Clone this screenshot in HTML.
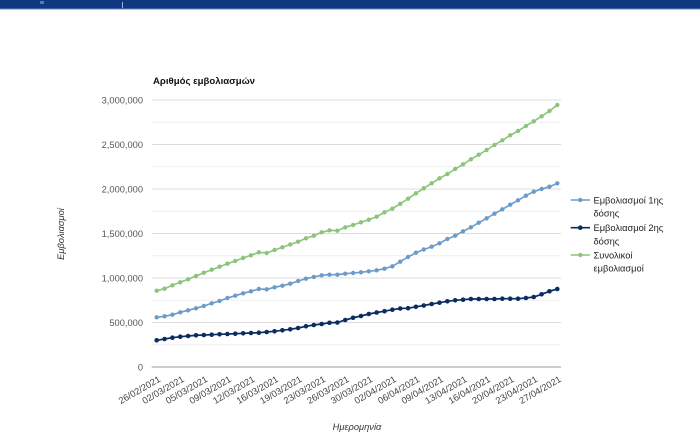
<!DOCTYPE html>
<html><head><meta charset="utf-8"><style>
html,body{margin:0;padding:0;background:#fff;}
body{width:700px;height:432px;overflow:hidden;}
svg{display:block;font-family:"Liberation Sans",Arial,sans-serif;}
</style></head><body>
<svg width="700" height="432" viewBox="0 0 700 432" xmlns="http://www.w3.org/2000/svg">
<defs>
<marker id="mg" markerUnits="userSpaceOnUse" markerWidth="6" markerHeight="6" refX="3" refY="3"><circle cx="3" cy="3" r="2.2" fill="#8cc47a"/></marker>
<marker id="mb" markerUnits="userSpaceOnUse" markerWidth="6" markerHeight="6" refX="3" refY="3"><circle cx="3" cy="3" r="2.2" fill="#6c9bc8"/></marker>
<marker id="md" markerUnits="userSpaceOnUse" markerWidth="6" markerHeight="6" refX="3" refY="3"><circle cx="3" cy="3" r="2.3" fill="#0b2c5f"/></marker>
</defs>
<rect x="0" y="0" width="700" height="8.5" fill="#0e3880"/>
<rect x="0" y="8.5" width="700" height="1" fill="#6d8cbc"/>
<rect x="40" y="1" width="4" height="3" fill="#5c79a8"/>
<rect x="122" y="2" width="1" height="6" fill="#9fb3d6"/>

<text x="153" y="84" font-size="9.6" font-weight="bold" fill="#111">Αριθμός εμβολιασμών</text>

<g stroke="#efefef" stroke-width="1">
<line x1="151.7" y1="122.25" x2="561" y2="122.25"/>
<line x1="151.7" y1="166.75" x2="561" y2="166.75"/>
<line x1="151.7" y1="211.25" x2="561" y2="211.25"/>
<line x1="151.7" y1="255.75" x2="561" y2="255.75"/>
<line x1="151.7" y1="300.25" x2="561" y2="300.25"/>
<line x1="151.7" y1="344.75" x2="561" y2="344.75"/>
</g>
<g stroke="#dcdcdc" stroke-width="1">
<line x1="151.7" y1="100" x2="561" y2="100"/>
<line x1="151.7" y1="144.5" x2="561" y2="144.5"/>
<line x1="151.7" y1="189" x2="561" y2="189"/>
<line x1="151.7" y1="233.5" x2="561" y2="233.5"/>
<line x1="151.7" y1="278" x2="561" y2="278"/>
<line x1="151.7" y1="322.5" x2="561" y2="322.5"/>
</g>
<line x1="151.7" y1="367" x2="561" y2="367" stroke="#9a9a9a" stroke-width="1"/>

<g font-size="9.3" fill="#555" text-anchor="end">
<text x="143" y="103.3">3,000,000</text>
<text x="143" y="147.8">2,500,000</text>
<text x="143" y="192.3">2,000,000</text>
<text x="143" y="236.8">1,500,000</text>
<text x="143" y="281.3">1,000,000</text>
<text x="143" y="325.8">500,000</text>
<text x="143" y="370.3">0</text>
</g>

<text x="0" y="0" font-size="9.3" font-style="italic" fill="#333" text-anchor="middle" transform="translate(64,234) rotate(-90)">Εμβολιασμοί</text>
<text x="357" y="430" font-size="9.3" font-style="italic" fill="#333" text-anchor="middle">Ημερομηνία</text>

<g font-size="9.3" fill="#444" text-anchor="end">
<text transform="translate(161.2,381) rotate(-30)">26/02/2021</text>
<text transform="translate(184.8,381) rotate(-30)">02/03/2021</text>
<text transform="translate(208.3,381) rotate(-30)">05/03/2021</text>
<text transform="translate(231.9,381) rotate(-30)">09/03/2021</text>
<text transform="translate(255.5,381) rotate(-30)">12/03/2021</text>
<text transform="translate(279.0,381) rotate(-30)">16/03/2021</text>
<text transform="translate(302.6,381) rotate(-30)">19/03/2021</text>
<text transform="translate(326.2,381) rotate(-30)">23/03/2021</text>
<text transform="translate(349.7,381) rotate(-30)">26/03/2021</text>
<text transform="translate(373.3,381) rotate(-30)">30/03/2021</text>
<text transform="translate(396.9,381) rotate(-30)">02/04/2021</text>
<text transform="translate(420.4,381) rotate(-30)">06/04/2021</text>
<text transform="translate(444.0,381) rotate(-30)">09/04/2021</text>
<text transform="translate(467.6,381) rotate(-30)">13/04/2021</text>
<text transform="translate(491.1,381) rotate(-30)">16/04/2021</text>
<text transform="translate(514.7,381) rotate(-30)">20/04/2021</text>
<text transform="translate(538.2,381) rotate(-30)">23/04/2021</text>
<text transform="translate(561.8,381) rotate(-30)">27/04/2021</text>
</g>

<!-- Green: total -->
<polyline fill="none" stroke="#8cc47a" stroke-width="1.6" marker-start="url(#mg)" marker-mid="url(#mg)" marker-end="url(#mg)" points="
156.70,290.7 164.56,288.7 172.41,285.3 180.27,282.3 188.12,279.3 195.98,276 203.83,272.7 211.69,269.7 219.54,266.7 227.40,263.7
235.25,261 243.11,258 250.96,255.3 258.82,252.3 266.67,253 274.53,250 282.38,247.3 290.24,244.5 298.09,241.7 305.95,238.3
313.80,235.7 321.66,232.3 329.51,230.3 337.37,230.7 345.22,227.3 353.08,225 360.93,222.3 368.79,219.7 376.64,216.7 384.50,212.3
392.35,208.7 400.21,203.8 408.06,198.7 415.92,193.3 423.77,188.3 431.63,183.3 439.48,178.3 447.34,174 455.19,169 463.05,164.3
470.90,159.3 478.76,154.7 486.61,150 494.47,145 502.32,140.3 510.18,135.3 518.03,131 525.89,126 533.74,121.3 541.60,116.3
549.45,111 557.31,105"/>

<!-- Light blue: 1st dose -->
<polyline fill="none" stroke="#6c9bc8" stroke-width="1.6" marker-start="url(#mb)" marker-mid="url(#mb)" marker-end="url(#mb)" points="
156.70,317.3 164.56,316.3 172.41,314.7 180.27,312.3 188.12,310.3 195.98,308.3 203.83,306 211.69,303.3 219.54,301 227.40,298
235.25,295.7 243.11,293.3 250.96,291.3 258.82,289 266.67,289.3 274.53,287.3 282.38,285.7 290.24,283.7 298.09,281 305.95,278.7
313.80,277 321.66,275.3 329.51,274.7 337.37,274.7 345.22,273.7 353.08,273 360.93,272.3 368.79,271.3 376.64,270.3 384.50,268.7
392.35,266.3 400.21,261.7 408.06,257 415.92,252.7 423.77,249.5 431.63,246.7 439.48,243.3 447.34,239 455.19,235.7 463.05,231.3
470.90,227.3 478.76,222.7 486.61,218.3 494.47,213.7 502.32,209.3 510.18,204.7 518.03,200.3 525.89,195.7 533.74,191.7 541.60,189
549.45,186.7 557.31,183.3"/>

<!-- Dark: 2nd dose -->
<polyline fill="none" stroke="#0b2c5f" stroke-width="1.7" marker-start="url(#md)" marker-mid="url(#md)" marker-end="url(#md)" points="
156.70,340.3 164.56,339 172.41,337.7 180.27,336.7 188.12,336 195.98,335.3 203.83,335 211.69,334.7 219.54,334.3 227.40,334
235.25,333.7 243.11,333.3 250.96,333 258.82,332.7 266.67,332 274.53,331.3 282.38,330.3 290.24,329.3 298.09,328 305.95,326.3
313.80,325 321.66,324 329.51,322.8 337.37,322.5 345.22,320 353.08,317.8 360.93,316 368.79,314 376.64,312.5 384.50,311.2
392.35,309.7 400.21,308.5 408.06,308.2 415.92,306.8 423.77,305.5 431.63,304 439.48,302.7 447.34,301.3 455.19,300.3 463.05,299.7
470.90,299 478.76,299 486.61,299 494.47,299 502.32,298.7 510.18,298.7 518.03,298.7 525.89,298 533.74,297 541.60,294.3
549.45,291.3 557.31,289"/>

<!-- Legend -->
<line x1="570.7" y1="200" x2="590" y2="200" stroke="#6c9bc8" stroke-width="1.6"/>
<circle cx="580.3" cy="200" r="2.2" fill="#6c9bc8"/>
<line x1="570.7" y1="227.7" x2="590" y2="227.7" stroke="#0b2c5f" stroke-width="1.7"/>
<circle cx="580.3" cy="227.7" r="2.3" fill="#0b2c5f"/>
<line x1="570.7" y1="255" x2="590" y2="255" stroke="#8cc47a" stroke-width="1.6"/>
<circle cx="580.3" cy="255" r="2.2" fill="#8cc47a"/>
<g font-size="9.3" fill="#222">
<text x="593.5" y="203.3">Εμβολιασμοί 1ης</text>
<text x="593.5" y="216.6">δόσης</text>
<text x="593.5" y="231">Εμβολιασμοί 2ης</text>
<text x="593.5" y="244.3">δόσης</text>
<text x="593.5" y="258.3">Συνολικοί</text>
<text x="593.5" y="271.6">εμβολιασμοί</text>
</g>
</svg>
</body></html>
